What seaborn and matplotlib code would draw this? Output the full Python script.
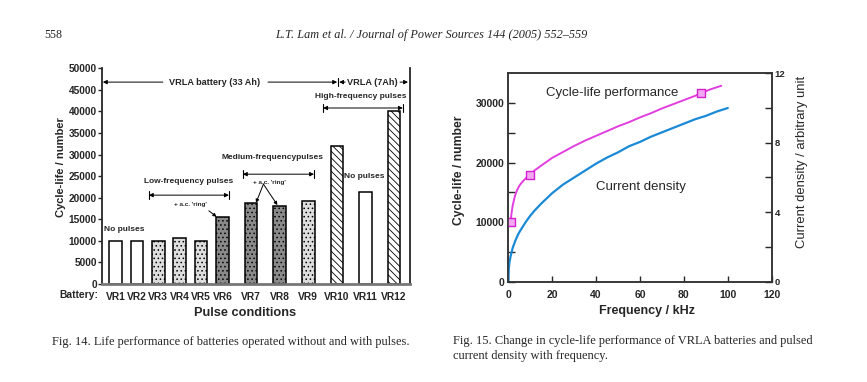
import numpy as np
import pandas as pd
import seaborn as sns
import matplotlib.pyplot as plt

# Fig. 14 - cycle life of each battery
battery = ["VR1", "VR2", "VR3", "VR4", "VR5", "VR6",
           "VR7", "VR8", "VR9", "VR10", "VR11", "VR12"]
cycle_life = [10000, 10000, 10000, 10600, 10000, 15500,
              18700, 18100, 19200, 32100, 21300, 40000]
fill = ["open", "open", "light", "light", "light", "dark",
        "dark", "dark", "light", "hatch", "open", "hatch"]

# Fig. 15 - cycle life and current density against frequency (kHz)
freq_life = [1, 1.5, 2, 3, 4, 5, 6, 7, 8, 9, 10, 12, 15, 20, 25, 30, 35,
             40, 45, 50, 55, 60, 65, 70, 75, 80, 85, 88, 92, 97]
cycle_perf = [10000, 11600, 12800, 14400, 15400, 16100, 16600, 17000,
              17400, 17700, 18000, 18700, 19500, 20800, 21800, 22800,
              23700, 24500, 25300, 26100, 26800, 27600, 28300, 29100,
              29800, 30500, 31200, 31700, 32300, 32900]
freq_marks = [1, 10, 88]
cycle_marks = [10000, 18000, 31700]
freq_cd = [0, 0.25, 0.5, 1, 2, 3, 4, 5, 6, 8, 10, 12, 15, 20, 25, 30, 35,
           40, 45, 50, 55, 60, 65, 70, 75, 80, 85, 90, 95, 100]
current_density = [0, 0.8, 1.1, 1.45, 1.95, 2.3, 2.6, 2.85, 3.05, 3.45,
                   3.8, 4.1, 4.5, 5.1, 5.6, 6.0, 6.4, 6.8, 7.15, 7.45,
                   7.8, 8.05, 8.35, 8.6, 8.85, 9.1, 9.35, 9.55, 9.8, 10.0]

sns.set_style("ticks")
plt.rcParams["font.family"] = ["Liberation Sans", "DejaVu Sans"]
plt.rcParams["font.weight"] = "bold"
plt.rcParams["hatch.linewidth"] = 0.6

fig = plt.figure(figsize=(8.67, 3.82), dpi=100)
ax1 = fig.add_axes([0.1173, 0.2565, 0.3556, 0.5647])
ax2 = fig.add_axes([0.5863, 0.2626, 0.3038, 0.5455])

# ---- left chart: bars, VR1-VR6 packed a bit tighter than VR7-VR12
slot = [i * 0.75 if i < 6 else i - 1.25 for i in range(len(battery))]
df = pd.DataFrame({"slot": slot, "life": cycle_life})
sns.barplot(data=df, x="slot", y="life", native_scale=True, width=0.585,
            color="white", edgecolor="black", linewidth=1.1,
            errorbar=None, ax=ax1)

looks = {"open": ("white", None), "light": ("#dedede", "...."),
         "dark": ("#8a8a8a", "...."), "hatch": ("white", "\\" * 5)}
for bar, kind in zip(ax1.patches, fill):
    fc, h = looks[kind]
    bar.set_facecolor(fc)
    bar.set_hatch(h)
    bar.set_edgecolor("black")

ax1.set_xlim(-0.48, 10.31)
ax1.set_ylim(0, 50000)
ax1.set_yticks(np.arange(0, 50001, 5000))
ax1.set_xticks(slot, battery)
ax1.tick_params(axis="x", length=0, labelsize=7.4, pad=6)
ax1.tick_params(axis="y", length=3, width=1, labelsize=7.3, pad=0.5)
ax1.spines["top"].set_visible(False)
for s in ["left", "right"]:
    ax1.spines[s].set_linewidth(1.3)
ax1.spines["bottom"].set_linewidth(2)
ax1.spines["bottom"].set_color("#777777")
ax1.set_ylabel("Cycle-life / number", fontsize=8, fontweight="bold")
ax1.yaxis.set_label_coords(-0.115, 0.54)
ax1.set_xlabel("Pulse conditions", fontsize=9.2, fontweight="bold")
ax1.xaxis.set_label_coords(0.465, -0.105)
ax1.text(-0.012, -0.051, "Battery:", transform=ax1.transAxes,
         ha="right", va="center", fontsize=7.4)

yt = 46800
ax1.text(3.48, yt, "VRLA battery (33 Ah)", ha="center", va="center", fontsize=6.6)
ax1.text(9.0, yt, "VRLA (7Ah)", ha="center", va="center", fontsize=6.6)
arr = dict(arrowstyle="-|>", color="black", lw=0.7, mutation_scale=6,
           shrinkA=0, shrinkB=0)
for tail, head in [(1.66, -0.44), (5.34, 7.76), (8.04, 7.83), (9.96, 10.24)]:
    ax1.annotate("", xy=(head, yt), xytext=(tail, yt), arrowprops=arr,
                 annotation_clip=False)
ax1.plot([7.79, 7.79], [yt - 900, yt + 900], color="black", lw=0.8)

brackets = [("High-frequency pulses", 8.58, 43500, 7.27, 10.06, 40800),
            ("Medium-frequencypulses", 5.51, 29400, 4.46, 6.95, 25460),
            ("Low-frequency pulses", 2.56, 23850, 1.17, 3.97, 20600)]
for label, tx, ty, x0, x1, by in brackets:
    ax1.text(tx, ty, label, ha="center", va="center", fontsize=6)
    ax1.annotate("", xy=(x1, by), xytext=(x0, by),
                 arrowprops=dict(arrowstyle="<|-|>", color="black", lw=0.7,
                                 mutation_scale=6, shrinkA=0, shrinkB=0))
    for xe in (x0, x1):
        ax1.plot([xe, xe], [by - 1000, by + 1000], color="black", lw=0.8)

ax1.text(2.63, 18450, "+ a.c. 'ring'", ha="center", va="center", fontsize=4.6)
ax1.text(5.39, 23540, "+ a.c. 'ring'", ha="center", va="center", fontsize=4.6)
ring = dict(arrowstyle="-|>", color="black", lw=0.7, mutation_scale=5,
            shrinkA=0, shrinkB=0)
ax1.annotate("", xy=(3.54, 15580), xytext=(3.27, 16970), arrowprops=ring)
ax1.annotate("", xy=(4.92, 18820), xytext=(5.18, 23150), arrowprops=ring)
ax1.annotate("", xy=(5.67, 18290), xytext=(5.18, 23150), arrowprops=ring)
ax1.text(0.31, 12660, "No pulses", ha="center", va="center", fontsize=6)
ax1.text(8.70, 25000, "No pulses", ha="center", va="center", fontsize=6)

# ---- right chart: two curves on twin axes
magenta = "#e23ee0"
blue = "#1b8ad6"
sns.lineplot(x=freq_life, y=cycle_perf, color=magenta, lw=1.4, ax=ax2)
sns.scatterplot(x=freq_marks, y=cycle_marks, marker="s", s=28,
                facecolor="#f3a6f1", edgecolor="#d41fd2", linewidth=1,
                zorder=4, ax=ax2)
ax3 = ax2.twinx()
sns.lineplot(x=freq_cd, y=current_density, color=blue, lw=1.6, ax=ax3)

ax2.set_xlim(0, 120)
ax2.set_ylim(0, 35000)
ax2.set_xticks(range(0, 121, 20))
ax2.set_yticks([0, 10000, 20000, 30000])
ax2.set_yticks([5000, 15000, 25000], minor=True)
ax2.tick_params(axis="both", which="both", direction="in", width=1)
ax2.tick_params(axis="y", which="both", length=5, labelsize=7.5, pad=3)
ax2.tick_params(axis="x", length=4, labelsize=7.5, pad=6)
ax3.set_ylim(0, 12)
ax3.set_yticks([0, 4, 8, 12])
ax3.set_yticks([2, 6, 10], minor=True)
ax3.tick_params(axis="y", which="both", direction="in", length=5, width=1,
                labelsize=6.8, pad=2)
for a in (ax2, ax3):
    for s in a.spines.values():
        s.set_linewidth(1.1)
        s.set_color("#333333")

ax2.set_xlabel("Frequency / kHz", fontsize=9, fontweight="bold")
ax2.xaxis.set_label_coords(0.527, -0.112)
ax2.set_ylabel("Cycle-life / number", fontsize=8.7, fontweight="bold")
ax2.yaxis.set_label_coords(-0.164, 0.536)
ax3.set_ylabel("Current density / arbitrary unit", fontsize=9.4,
               fontweight="normal")
ax3.yaxis.set_label_coords(1.092, 0.576)
ax2.text(47.1, 31640, "Cycle-life performance", ha="center", va="center",
         fontsize=9.5, fontweight="normal")
ax2.text(60.5, 15950, "Current density", ha="center", va="center",
         fontsize=9.5, fontweight="normal")

# ---- page text
serif = ["Liberation Serif", "DejaVu Serif"]
fig.text(0.051, 1 - 35 / 382, "558", family=serif, fontsize=8.6,
         fontweight="normal", va="center")
fig.text(0.497, 1 - 35 / 382,
         "L.T. Lam et al. / Journal of Power Sources 144 (2005) 552\u2013559",
         family=serif, style="italic", fontsize=8.8, fontweight="normal",
         ha="center", va="center")
fig.text(0.06, 1 - 342 / 382,
         "Fig. 14. Life performance of batteries operated without and with pulses.",
         family=serif, fontsize=8.9, fontweight="normal", va="center")
fig.text(0.5225, 1 - 341 / 382,
         "Fig. 15. Change in cycle-life performance of VRLA batteries and pulsed",
         family=serif, fontsize=8.9, fontweight="normal", va="center")
fig.text(0.5225, 1 - 356 / 382, "current density with frequency.",
         family=serif, fontsize=8.9, fontweight="normal", va="center")

fig.savefig("out.png", dpi=100)
